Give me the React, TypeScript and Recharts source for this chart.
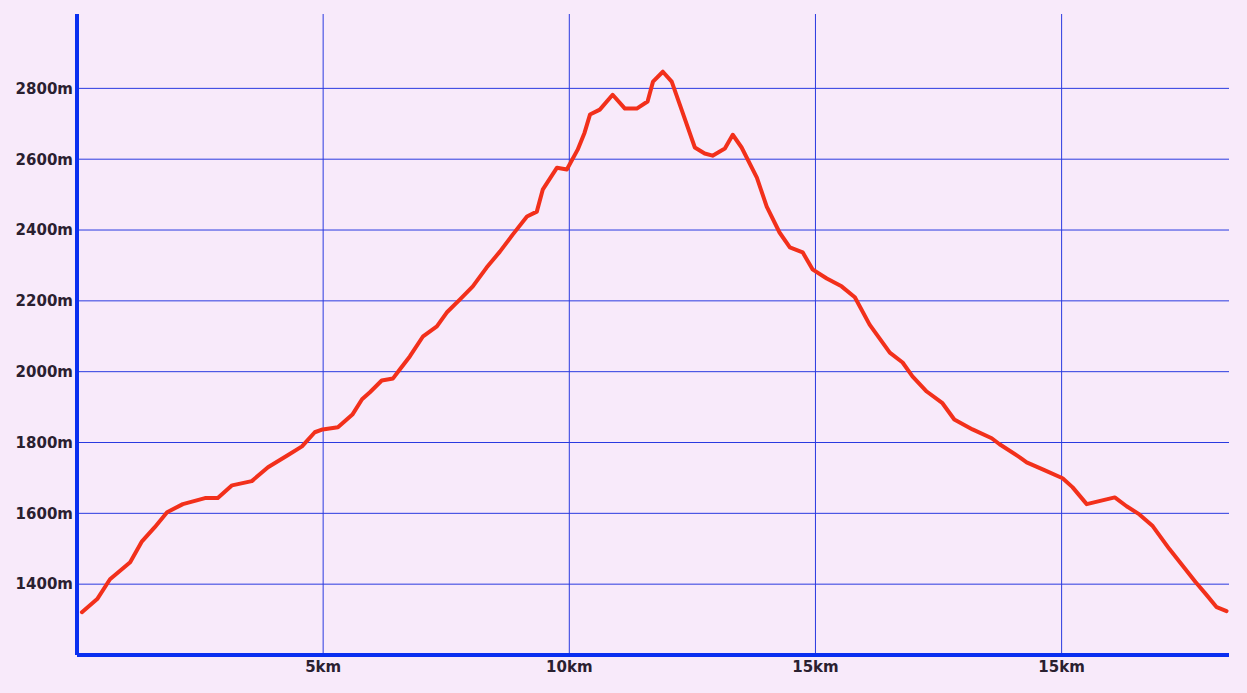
import React from "react";
import { LineChart, Line, XAxis, YAxis, ReferenceLine } from "recharts";

const distanceKm = [
  0.10, 0.41, 0.67, 1.08, 1.32, 1.58, 1.83, 2.15, 2.60, 2.86, 3.15, 3.55, 3.88, 4.28, 4.57, 4.83,
  4.99, 5.30, 5.60, 5.79, 5.95, 6.19, 6.42, 6.56, 6.76, 7.03, 7.31, 7.51, 7.78, 8.04, 8.32, 8.59,
  8.85, 9.14, 9.34, 9.46, 9.75, 9.95, 10.17, 10.31, 10.42, 10.62, 10.88, 11.13, 11.37, 11.59, 11.70,
  11.90, 12.08, 12.30, 12.55, 12.75, 12.91, 13.16, 13.32, 13.50, 13.81, 14.01, 14.27, 14.48, 14.74,
  14.94, 15.23, 15.53, 15.80, 16.10, 16.51, 16.77, 16.97, 17.26, 17.58, 17.82, 18.19, 18.58, 18.74,
  19.15, 19.29, 19.65, 20.02, 20.22, 20.51, 21.08, 21.32, 21.58, 21.85, 22.19, 22.72, 22.93, 23.15,
  23.35,
];

const elevationM = [
  1321, 1358, 1414, 1462, 1521, 1561, 1603, 1626, 1643, 1643, 1679, 1691, 1730, 1764, 1789, 1829,
  1837, 1843, 1880, 1922, 1942, 1975, 1981, 2007, 2043, 2100, 2128, 2167, 2204, 2241, 2294, 2339,
  2387, 2438, 2452, 2514, 2576, 2571, 2627, 2675, 2726, 2740, 2782, 2743, 2743, 2763, 2819,
  2847, 2819, 2732, 2633, 2616, 2610, 2630, 2669, 2633, 2548, 2466, 2393, 2351, 2337,
  2289, 2263, 2241, 2210, 2133, 2054, 2026, 1987, 1944, 1911, 1865, 1837, 1812, 1795,
  1758, 1744, 1722, 1699, 1674, 1626, 1645, 1620, 1597, 1564, 1499, 1406, 1372, 1335,
  1324,
];

const xTicks = [5, 10, 15, 20];
const xTickLabels = ["5km", "10km", "15km", "15km"];
const yTicks = [1400, 1600, 1800, 2000, 2200, 2400, 2600, 2800];
const yTickLabels = ["1400m", "1600m", "1800m", "2000m", "2200m", "2400m", "2600m", "2800m"];

const data = distanceKm.map((d, i) => ({ d, e: elevationM[i] }));

const tickStyle = {
  fontFamily: "'DejaVu Sans', sans-serif",
  fontWeight: 700,
  fontSize: 15,
  fill: "#2a2030",
};

const gridColor = "#2a3ae0";

export default function App() {
  return (
    <div
      style={{
        position: "fixed",
        left: 0,
        top: 0,
        width: 1247,
        height: 693,
        background: "#f8eafa",
      }}
    >
      <LineChart
        width={1247}
        height={693}
        data={data}
        margin={{ top: 14, right: 18, bottom: 0, left: 0 }}
      >
        <XAxis
          dataKey="d"
          type="number"
          domain={[0, 23.4]}
          ticks={xTicks}
          tickFormatter={(v: number) => xTickLabels[xTicks.indexOf(v)] ?? ""}
          height={38}
          tickLine={false}
          tickSize={0}
          tickMargin={6}
          axisLine={{ stroke: "#0a2ff0", strokeWidth: 4 }}
          tick={tickStyle}
          interval={0}
        />
        <YAxis
          type="number"
          domain={[1200, 3010]}
          ticks={yTicks}
          tickFormatter={(v: number) => yTickLabels[yTicks.indexOf(v)] ?? ""}
          width={77}
          tickLine={false}
          tickSize={0}
          tickMargin={4}
          axisLine={{ stroke: "#0a2ff0", strokeWidth: 4 }}
          tick={tickStyle}
          interval={0}
        />
        {yTicks.map((t) => (
          <ReferenceLine key={"y" + t} y={t} stroke={gridColor} strokeWidth={1} />
        ))}
        {xTicks.map((t) => (
          <ReferenceLine key={"x" + t} x={t} stroke={gridColor} strokeWidth={1} />
        ))}
        <Line
          dataKey="e"
          type="linear"
          stroke="#f2301b"
          strokeWidth={4}
          dot={false}
          isAnimationActive={false}
          strokeLinejoin="round"
          strokeLinecap="round"
        />
      </LineChart>
    </div>
  );
}
